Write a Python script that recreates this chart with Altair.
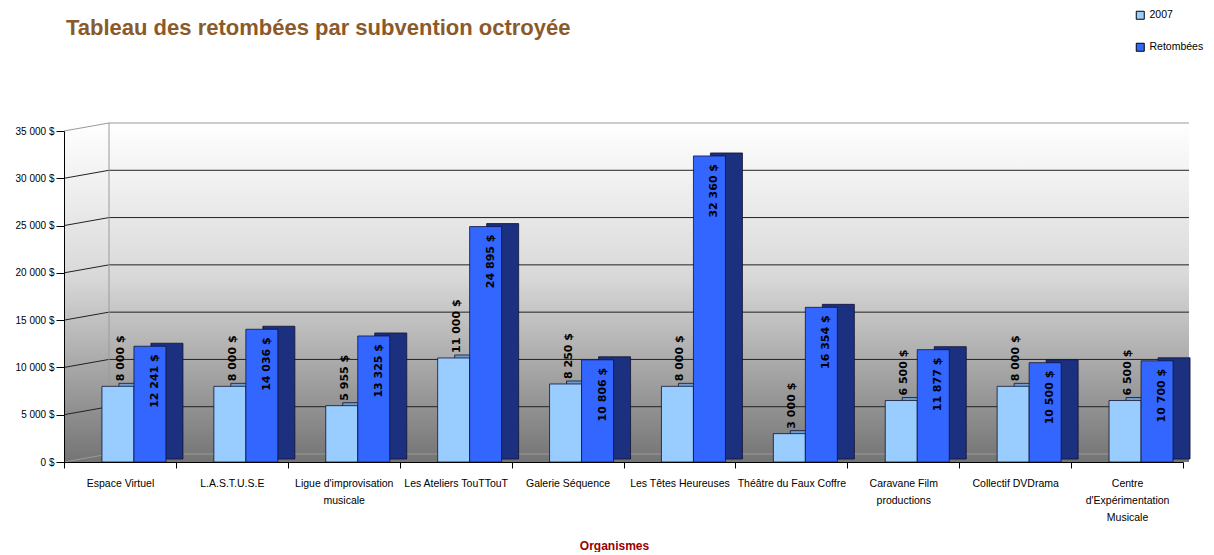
import altair as alt
import pandas as pd

# ---------------- data ----------------
cats = [
    "Espace Virtuel",
    "L.A.S.T.U.S.E",
    "Ligue d'improvisation\nmusicale",
    "Les Ateliers TouTTouT",
    "Galerie Séquence",
    "Les Têtes Heureuses",
    "Théâtre du Faux Coffre",
    "Caravane Film\nproductions",
    "Collectif DVDrama",
    "Centre\nd'Expérimentation\nMusicale",
]
subv_2007 = [8000, 8000, 5955, 11000, 8250, 8000, 3000, 6500, 8000, 6500]
retombees = [12241, 14036, 13325, 24895, 10806, 32360, 16354, 11877, 10500, 10700]
series = ["2007", "Retombées"]
y_ticks = [0, 5000, 10000, 15000, 20000, 25000, 30000, 35000]
title_text = "Tableau des retombées par subvention octroyée"
x_title = "Organismes"

# ---------------- styling ----------------
LIGHT = "#99CCFF"
LIGHT_DARK = "#6E9CCB"
BLUE = "#3366FF"
BLUE_DARK = "#1B307F"
EDGE = "#111133"
W, H = 1119, 331
DEPTH_X, DEPTH_Y = 17, 3
WALL_X, WALL_Y = 45, 8


def fmt(v):
    return f"{v:,}".replace(",", " ") + " $"


df = pd.DataFrame({
    "org": cats * 2,
    "serie": [series[0]] * len(cats) + [series[1]] * len(cats),
    "val": subv_2007 + retombees,
})
df["lab"] = df["val"].map(fmt)
df_light = df[df.serie == series[0]]
df_blue = df[df.serie == series[1]]

grid_df = pd.DataFrame({"val": y_ticks})
grid_inner = grid_df[(grid_df.val > 0) & (grid_df.val < 35000)]
grid_ends = grid_df[(grid_df.val == 0) | (grid_df.val == 35000)]

xsc = alt.Scale(domain=cats, paddingInner=0, paddingOuter=0)
ysc = alt.Scale(domain=[0, 35000], nice=False)
csc = alt.Scale(domain=series, range=[LIGHT, BLUE])

x_axis = alt.Axis(
    tickBand="extent", labelExpr="split(datum.label, '\\n')", labelAngle=0,
    title=x_title, titleColor="#990000", titleFontWeight="bold", titleFontSize=12,
    titleFont="Liberation Sans", titleX=550, titleY=87, titleBaseline="alphabetic",
    labelFont="Liberation Sans", labelFontSize=10.5, labelColor="black",
    labelLineHeight=17, labelPadding=10, tickSize=6, tickColor="black",
    domainColor="black", labelLimit=300, zindex=1,
)
y_axis = alt.Axis(
    values=y_ticks, labelExpr="replace(format(datum.value, ','), ',', ' ') + ' $'",
    title=None, tickSize=8, labelPadding=2, labelFontSize=10,
    labelFont="Liberation Sans", labelColor="black", domainColor="black",
    tickColor="black", grid=False, zindex=1,
)

X0 = alt.X("org:N", scale=xsc, axis=x_axis)
Y0 = alt.Y("val:Q", scale=ysc, axis=y_axis)

grad = alt.Gradient(
    gradient="linear",
    stops=[
        alt.GradientStop(offset=0, color="#ffffff"),
        alt.GradientStop(offset=0.45, color="#d9d9d9"),
        alt.GradientStop(offset=1, color="#747474"),
    ],
    x1=0, x2=0, y1=0, y2=1,
)

one = pd.DataFrame({"a": [0]})
bg = alt.Chart(one).mark_rect(color=grad).encode(
    x=alt.value(0), x2=alt.value(W + 6), y=alt.value(-WALL_Y), y2=alt.value(H)
)


def grid_layers(data, color):
    slant = alt.Chart(data).mark_rule(color=color, strokeWidth=1, y2Offset=-WALL_Y).encode(
        x=alt.value(0), x2=alt.value(WALL_X), y=Y0, y2="val:Q",
    )
    horiz = alt.Chart(data).mark_rule(color=color, strokeWidth=1, yOffset=-WALL_Y).encode(
        x=alt.value(WALL_X), x2=alt.value(W + 6), y=Y0,
    )
    return [slant, horiz]


wall = alt.Chart(one).mark_rule(color="#9a9a9a", strokeWidth=1).encode(
    x=alt.value(WALL_X), y=alt.value(-WALL_Y), y2=alt.value(H - WALL_Y)
)

legend = alt.Legend(
    title=None, orient="none", legendX=1071, legendY=-121, symbolType="square",
    symbolSize=64, symbolStrokeColor="black", symbolStrokeWidth=1,
    labelFontSize=10.5, labelFont="Liberation Sans", labelColor="black",
    rowPadding=19, padding=0, labelOffset=4, labelLimit=200,
)

light_back = alt.Chart(df_light).mark_bar(
    width=32, xOffset=-2 + DEPTH_X, yOffset=-DEPTH_Y, y2Offset=-DEPTH_Y,
    color=LIGHT_DARK, stroke=EDGE, strokeWidth=0.8,
).encode(x=X0, y=Y0)

light = alt.Chart(df_light).mark_bar(
    width=32, xOffset=-2, stroke=EDGE, strokeWidth=0.8,
).encode(
    x=X0, y=Y0,
    color=alt.Color("serie:N", scale=csc, legend=legend),
)

blue_back = alt.Chart(df_blue).mark_bar(
    width=32, xOffset=30 + DEPTH_X, yOffset=-DEPTH_Y, y2Offset=-DEPTH_Y,
    color=BLUE_DARK, stroke=EDGE, strokeWidth=0.8,
).encode(x=X0, y=Y0)

blue = alt.Chart(df_blue).mark_bar(
    width=32, xOffset=30, stroke=EDGE, strokeWidth=0.8,
).encode(
    x=X0, y=Y0,
    color=alt.Color("serie:N", scale=csc, legend=legend),
)

lab_light = alt.Chart(df_light).mark_text(
    angle=270, align="left", baseline="middle", dx=5, xOffset=1,
    font="DejaVu Sans", fontWeight="bold", fontSize=11, color="black",
).encode(x=X0, y=Y0, text="lab:N")

lab_blue = alt.Chart(df_blue).mark_text(
    angle=270, align="right", baseline="middle", dx=-8, xOffset=35,
    font="DejaVu Sans", fontWeight="bold", fontSize=11, color="black",
).encode(x=X0, y=Y0, text="lab:N")

title = alt.Chart(pd.DataFrame({"t": [title_text]})).mark_text(
    align="left", baseline="alphabetic", font="Liberation Sans", fontWeight="bold",
    fontSize=22, color="#8B5A2B",
).encode(x=alt.value(2), y=alt.value(-96), text="t:N")

layers = [bg] + grid_layers(grid_inner, "#222222") + grid_layers(grid_ends, "#9a9a9a") + [
    wall, light_back, light, blue_back, blue, lab_light, lab_blue, title
]

chart = alt.layer(*layers).properties(
    width=W, height=H,
    padding={"left": 56, "top": 123, "right": 23, "bottom": 90},
    autosize=alt.AutoSizeParams(type="none"),
).configure_view(stroke=None)

chart.save("out.html", embed_options={"renderer": "svg", "actions": False})
